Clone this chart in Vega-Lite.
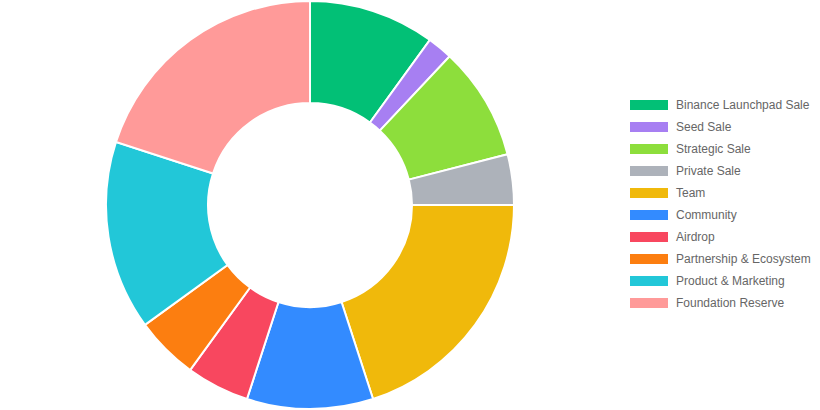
{
  "$schema": "https://vega.github.io/schema/vega-lite/v6.json",
  "width": 620,
  "height": 410,
  "padding": {"left": 0, "top": 0, "right": 200, "bottom": 0},
  "autosize": "none",
  "background": "white",
  "data": {
    "values": [
      {"idx": 1, "name": "Binance Launchpad Sale", "value": 10},
      {"idx": 2, "name": "Seed Sale", "value": 2},
      {"idx": 3, "name": "Strategic Sale", "value": 9},
      {"idx": 4, "name": "Private Sale", "value": 4},
      {"idx": 5, "name": "Team", "value": 20},
      {"idx": 6, "name": "Community", "value": 10},
      {"idx": 7, "name": "Airdrop", "value": 5},
      {"idx": 8, "name": "Partnership & Ecosystem", "value": 5},
      {"idx": 9, "name": "Product & Marketing", "value": 15},
      {"idx": 10, "name": "Foundation Reserve", "value": 20}
    ]
  },
  "mark": {"type": "arc", "outerRadius": 204, "innerRadius": 102, "stroke": "white", "strokeWidth": 2},
  "encoding": {
    "theta": {"field": "value", "type": "quantitative", "stack": true},
    "order": {"field": "idx", "type": "quantitative"},
    "color": {
      "field": "name",
      "type": "nominal",
      "sort": null,
      "scale": {
        "domain": ["Binance Launchpad Sale", "Seed Sale", "Strategic Sale", "Private Sale", "Team", "Community", "Airdrop", "Partnership & Ecosystem", "Product & Marketing", "Foundation Reserve"],
        "range": ["#02C076", "#A77FF2", "#8DDE3C", "#ADB2BA", "#F0B90B", "#338BFF", "#F8475F", "#FC7E10", "#22C7D8", "#FF9A99"]
      },
      "legend": {
        "title": null,
        "orient": "none",
        "legendX": 639,
        "legendY": 95,
        "symbolType": "M-1.9,-0.5L1.9,-0.5L1.9,0.5L-1.9,0.5Z",
        "symbolSize": 400,
        "symbolStrokeWidth": 0,
        "symbolOpacity": 1,
        "labelFont": "Liberation Sans",
        "labelFontSize": 12,
        "labelColor": "#666666",
        "labelOffset": 17,
        "rowPadding": 6,
        "labelLimit": 300
      }
    }
  },
  "config": {"view": {"stroke": null}}
}
